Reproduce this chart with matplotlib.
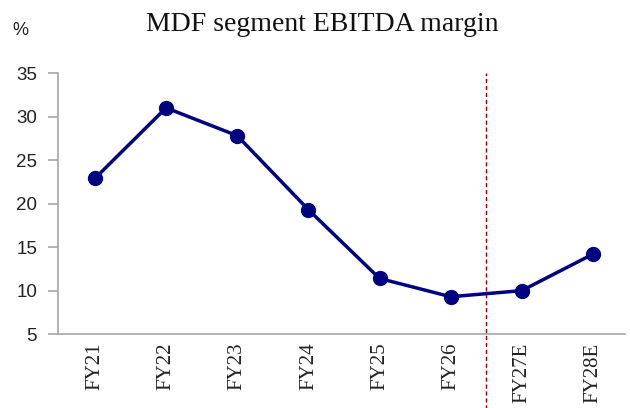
import matplotlib.pyplot as plt

years = ["FY21", "FY22", "FY23", "FY24", "FY25", "FY26", "FY27E", "FY28E"]
margin = [22.9, 31.0, 27.8, 19.3, 11.4, 9.3, 10.0, 14.2]

fig = plt.figure(figsize=(6.3, 4.08), dpi=100)
ax = fig.add_axes([0.092, 0.181, 0.9, 0.64])

x = list(range(len(years)))
ax.plot(x, margin, color="#000080", lw=2.5, marker="o", ms=10, zorder=3)

ax.set_xlim(-0.52, 7.45)
ax.set_ylim(5, 35)
ax.set_yticks(range(5, 36, 5))
ax.set_xticks(x)
ax.set_xticklabels(years, rotation=90, fontfamily="Liberation Serif", fontsize=15)
for lab in ax.get_yticklabels():
    lab.set_fontfamily("Liberation Sans")
    lab.set_fontsize(13.5)

for s in ["top", "right"]:
    ax.spines[s].set_visible(False)
for s in ["left", "bottom"]:
    ax.spines[s].set_color("#a6a6a6")
    ax.spines[s].set_linewidth(1.2)
ax.tick_params(axis="y", color="#a6a6a6", length=7, width=1.2, pad=8, labelcolor="#222222")
ax.tick_params(axis="x", length=0, pad=6, labelcolor="#222222")

# forecast separator, runs down past the axis
ax.axvline(5.5, ymin=-0.3, ymax=1.0, color="#8b0000", lw=1, ls=(0, (3, 2)), clip_on=False)

fig.text(0.511, 0.94, "MDF segment EBITDA margin", ha="center", va="center",
         fontfamily="Liberation Serif", fontsize=20, color="#111111")
fig.text(0.033, 0.925, "%", ha="center", va="center", fontfamily="Liberation Sans",
         fontsize=13, color="#222222")

fig.savefig("out.png", dpi=100)
